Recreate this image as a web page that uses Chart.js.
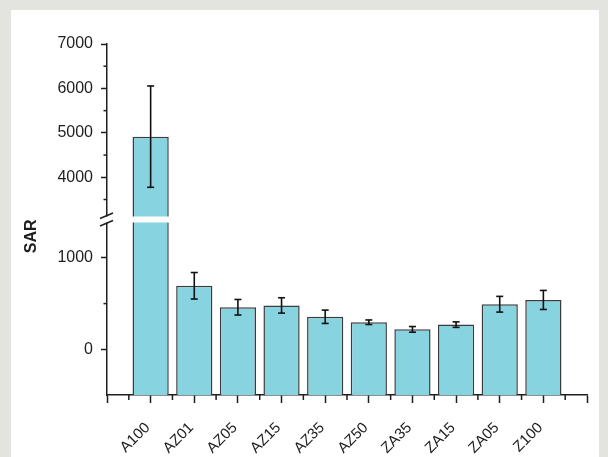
<!DOCTYPE html>
<html>
<head>
<meta charset="utf-8">
<script src="https://cdn.jsdelivr.net/npm/chart.js@4.4.1/dist/chart.umd.min.js"></script>
<style>
  html, body { margin: 0; padding: 0; background: #e3e4e0; }
  #panel { position: absolute; left: 11px; top: 10px; width: 588px; height: 447px; background: #fff; }
</style>
</head>
<body>
<div id="panel"><canvas id="chart" width="588" height="447"></canvas></div>
<script>
// ---- Data ----
var categories = ["A100", "AZ01", "AZ05", "AZ15", "AZ35", "AZ50", "ZA35", "ZA15", "ZA05", "Z100"];
var sarValues  = [4915, 695, 460, 480, 356, 296, 218, 270, 493, 540];
var sarErrors  = [1140, 145, 85, 84, 73, 25, 31, 30, 86, 104];

// broken y axis: lower and upper segments, with their tick values
var lowerMin = -500, lowerMax = 1420;
var upperMin = 3050, upperMax = 7000;
var lowerTicks = [0, 500, 1000];
var upperTicks = [3500, 4000, 4500, 5000, 5500, 6000, 6500, 7000];

var AXIS_COLOR = "#1e1e1e";
var BAR_FILL   = "#87d3e0";
var BAR_EDGE   = "#3c3c3c";
var FONT       = "'Liberation Sans', Arial, sans-serif";

function line(ctx, x1, y1, x2, y2) {
  ctx.beginPath();
  ctx.moveTo(x1, y1);
  ctx.lineTo(x2, y2);
  ctx.stroke();
}

function isMajorY(v) { return v % 1000 === 0; }

// minor ticks, axis break and error bars
var extrasPlugin = {
  id: "extras",
  afterDraw: function(chart) {
    var ctx = chart.ctx;
    var xs = chart.scales.x, yLow = chart.scales.yLow, yHigh = chart.scales.yHigh;
    ctx.save();
    ctx.strokeStyle = AXIS_COLOR;
    ctx.lineWidth = 1.5;

    [yLow, yHigh].forEach(function(s) {
      s.ticks.forEach(function(t) {
        if (isMajorY(t.value)) return;
        var py = s.getPixelForValue(t.value);
        line(ctx, s.right - 3.5, py, s.right, py);
      });
    });
    // minor x ticks halfway between the category ticks
    for (var i = 1; i < xs.ticks.length; i++) {
      var px = xs.getPixelForValue((xs.ticks[i - 1].value + xs.ticks[i].value) / 2);
      line(ctx, px, xs.top, px, xs.top + 5);
    }

    // break: white gap across bar and axis, then the two slashes
    var yb = yLow.top;
    var ax = yLow.right;
    ctx.fillStyle = "#fff";
    ctx.fillRect(ax - 1.5, yb - 3, xs.right - ax, 6);
    line(ctx, ax - 7, yb - 1, ax + 6, yb - 6.5);
    line(ctx, ax - 7, yb + 6.5, ax + 6, yb + 1);

    // error bars
    var meta = chart.getDatasetMeta(0);
    ctx.lineWidth = 1.6;
    ctx.strokeStyle = "#111";
    sarValues.forEach(function(v, i) {
      var s = v > lowerMax ? yHigh : yLow;
      var px = meta.data[i].x;
      var yTop = s.getPixelForValue(v + sarErrors[i]);
      var yBot = s.getPixelForValue(v - sarErrors[i]);
      line(ctx, px, yTop, px, yBot);
      line(ctx, px - 3.5, yTop, px + 3.5, yTop);
      line(ctx, px - 3.5, yBot, px + 3.5, yBot);
    });
    ctx.restore();
  }
};

var lowerData = sarValues.map(function(v, i) { return { x: i, y: Math.min(v, lowerMax) }; });
var upperData = sarValues.map(function(v, i) { return { x: i, y: v > lowerMax ? v : null }; });

function yScale(min, max, tickValues, extra) {
  return Object.assign({
    type: "linear",
    position: "left",
    stack: "sar",
    stackWeight: 1,
    min: min,
    max: max,
    border: { display: true, color: AXIS_COLOR, width: 1.5 },
    grid: {
      drawOnChartArea: false,
      drawTicks: true,
      tickLength: 6,
      tickWidth: 1.5,
      tickColor: function(c) { return c.tick && isMajorY(c.tick.value) ? AXIS_COLOR : "rgba(0,0,0,0)"; },
    },
    afterBuildTicks: function(s) {
      s.ticks = tickValues.map(function(v) { return { value: v }; });
    },
    ticks: {
      autoSkip: false,
      padding: 8,
      color: AXIS_COLOR,
      font: { family: FONT, size: 16 },
      callback: function(v) { return isMajorY(v) ? String(v) : ""; },
    },
    afterFit: function(s) { s.width = 96; s.paddingTop = 0; s.paddingBottom = 0; },
  }, extra || {});
}

new Chart(document.getElementById("chart"), {
  type: "bar",
  data: {
    datasets: [
      {
        data: lowerData,
        yAxisID: "yLow",
        backgroundColor: BAR_FILL,
        borderColor: BAR_EDGE,
        borderWidth: 1.5,
        base: lowerMin,
        grouped: false,
        barPercentage: 0.83,
        categoryPercentage: 1,
      },
      {
        data: upperData,
        yAxisID: "yHigh",
        backgroundColor: BAR_FILL,
        borderColor: BAR_EDGE,
        borderWidth: 1.5,
        grouped: false,
        barPercentage: 0.83,
        categoryPercentage: 1,
      },
    ],
  },
  options: {
    responsive: false,
    animation: false,
    layout: { padding: { top: 34, right: 12, left: 0, bottom: 0 } },
    plugins: { legend: { display: false }, tooltip: { enabled: false } },
    scales: {
      x: {
        type: "linear",
        offset: false,
        min: -1,
        max: categories.length,
        border: { display: true, color: AXIS_COLOR, width: 1.5 },
        grid: {
          offset: false,
          drawOnChartArea: false,
          tickLength: 8,
          tickWidth: 1.5,
          tickColor: AXIS_COLOR,
        },
        ticks: {
          stepSize: 1,
          autoSkip: false,
          minRotation: 45,
          maxRotation: 45,
          padding: 16,
          labelOffset: -3,
          color: AXIS_COLOR,
          font: { family: FONT, size: 15 },
          callback: function(v) { return categories[v] || ""; },
        },
        afterFit: function(s) { s.height = 62; s.paddingLeft = 0; s.paddingRight = 0; },
      },
      yLow: yScale(lowerMin, lowerMax, lowerTicks, {
        title: {
          display: true,
          text: "SAR",
          align: "end",
          color: AXIS_COLOR,
          font: { family: FONT, size: 16, weight: "bold" },
          padding: { top: 11, bottom: 0 },
        },
      }),
      yHigh: yScale(upperMin, upperMax, upperTicks),
    },
  },
  plugins: [extrasPlugin],
});
</script>
</body>
</html>
